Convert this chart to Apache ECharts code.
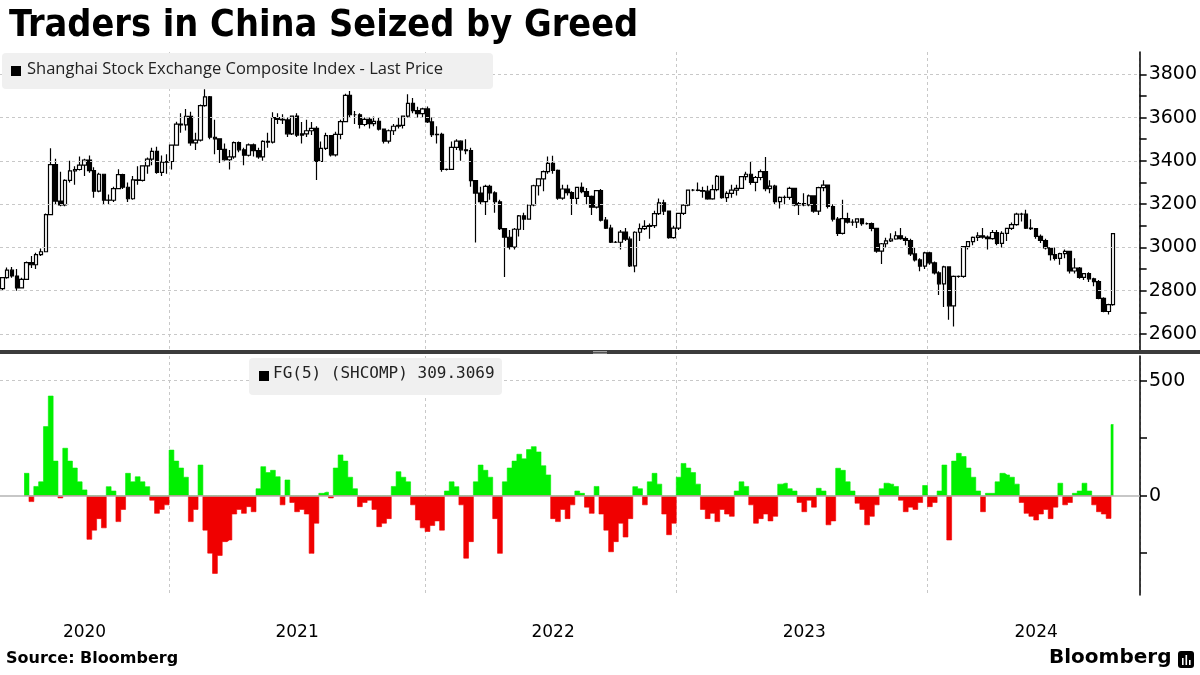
<!DOCTYPE html>
<html>
<head>
<meta charset="utf-8">
<title>Traders in China Seized by Greed</title>
<script src="https://cdn.jsdelivr.net/npm/echarts@6/dist/echarts.min.js"></script>
<style>
  html, body { margin: 0; padding: 0; background: #fff; }
  #chart { width: 1200px; height: 675px; }
</style>
</head>
<body>
<div id="chart"></div>
<script>
// weekly bars, week ending Friday, first week ends 2020-05-01
const firstWeek = '2020-05-01';
const weekCount = 236; // axis runs a few weeks past the last bar

// SHCOMP weekly [open, close, low, high]
const ohlc2020 = [
  [2810, 2860, 2800, 2861], [2860, 2895, 2855, 2907], [2895, 2868, 2860, 2910], [2868, 2813, 2800, 2900],
  [2813, 2852, 2810, 2860], [2852, 2930, 2850, 2935], [2930, 2920, 2905, 2960], [2920, 2967, 2900, 2975],
  [2967, 2980, 2960, 2995], [2980, 3152, 2980, 3157], [3152, 3383, 3150, 3458], [3383, 3214, 3200, 3410],
  [3214, 3196, 3190, 3350], [3196, 3310, 3190, 3315], [3310, 3354, 3300, 3400], [3354, 3360, 3290, 3375],
  [3360, 3380, 3355, 3420], [3380, 3404, 3330, 3410], [3404, 3355, 3345, 3425], [3355, 3260, 3230, 3370],
  [3260, 3338, 3255, 3345], [3338, 3219, 3200, 3340], [3219, 3218, 3200, 3245], [3218, 3272, 3210, 3280],
  [3272, 3336, 3270, 3361], [3336, 3278, 3270, 3340], [3278, 3225, 3210, 3300], [3225, 3312, 3220, 3330],
  [3312, 3310, 3290, 3375], [3310, 3377, 3305, 3380], [3377, 3408, 3340, 3415], [3408, 3444, 3380, 3460],
  [3444, 3347, 3340, 3465], [3347, 3394, 3330, 3425], [3394, 3397, 3340, 3430], [3397, 3473, 3360, 3475]
];
const ohlc2021 = [
  [3473, 3570, 3470, 3581], [3570, 3566, 3530, 3620], [3566, 3606, 3540, 3640], [3606, 3483, 3470, 3627],
  [3483, 3496, 3450, 3530], [3496, 3655, 3490, 3660], [3655, 3696, 3650, 3731], [3696, 3509, 3500, 3700],
  [3509, 3502, 3430, 3590], [3502, 3453, 3390, 3505], [3453, 3405, 3400, 3480], [3405, 3418, 3360, 3450],
  [3418, 3484, 3410, 3490], [3484, 3451, 3440, 3490], [3451, 3426, 3380, 3460], [3426, 3474, 3420, 3480],
  [3474, 3447, 3420, 3480], [3447, 3418, 3410, 3460], [3418, 3490, 3400, 3495], [3490, 3487, 3460, 3530],
  [3487, 3600, 3480, 3625], [3600, 3592, 3570, 3620], [3592, 3589, 3570, 3615], [3589, 3525, 3510, 3600],
  [3525, 3607, 3520, 3610], [3607, 3519, 3510, 3620], [3519, 3525, 3480, 3580], [3525, 3539, 3510, 3590],
  [3539, 3550, 3520, 3580], [3550, 3397, 3312, 3560], [3397, 3458, 3400, 3490], [3458, 3517, 3450, 3530],
  [3517, 3428, 3420, 3520], [3428, 3522, 3420, 3535], [3522, 3581, 3500, 3590], [3581, 3703, 3580, 3710],
  [3703, 3613, 3600, 3723], [3613, 3613, 3570, 3630], [3613, 3568, 3550, 3620], [3568, 3592, 3560, 3600],
  [3592, 3572, 3550, 3600], [3572, 3582, 3560, 3605], [3582, 3547, 3540, 3600], [3547, 3491, 3480, 3550],
  [3491, 3539, 3480, 3545], [3539, 3560, 3520, 3570], [3560, 3564, 3550, 3600], [3564, 3607, 3550, 3610],
  [3607, 3666, 3600, 3708], [3666, 3632, 3620, 3690], [3632, 3618, 3600, 3650], [3618, 3640, 3600, 3645]
];
const ohlc2022 = [
  [3640, 3580, 3575, 3651], [3580, 3521, 3510, 3600], [3521, 3522, 3480, 3560], [3522, 3361, 3350, 3530],
  [3361, 3361, 3355, 3365], [3361, 3462, 3360, 3490], [3462, 3491, 3450, 3500], [3491, 3451, 3400, 3495],
  [3451, 3447, 3430, 3500], [3447, 3309, 3280, 3460], [3309, 3251, 3023, 3310], [3251, 3212, 3200, 3280],
  [3212, 3282, 3150, 3290], [3282, 3252, 3220, 3290], [3252, 3211, 3160, 3260], [3211, 3087, 3080, 3220],
  [3087, 3047, 2863, 3090], [3047, 3001, 2990, 3080], [3001, 3084, 2990, 3090], [3084, 3146, 3050, 3150],
  [3146, 3131, 3080, 3160], [3131, 3196, 3130, 3200], [3196, 3285, 3190, 3290], [3285, 3317, 3240, 3320],
  [3317, 3350, 3260, 3355], [3350, 3388, 3340, 3420], [3388, 3356, 3340, 3424], [3356, 3228, 3220, 3360],
  [3228, 3270, 3220, 3290], [3270, 3253, 3240, 3290], [3253, 3227, 3150, 3260], [3227, 3277, 3200, 3280],
  [3277, 3258, 3250, 3300], [3258, 3236, 3200, 3275], [3236, 3186, 3150, 3240], [3186, 3262, 3180, 3265],
  [3262, 3126, 3120, 3270], [3126, 3089, 3085, 3140], [3089, 3024, 3020, 3105], [3024, 3024, 3020, 3030],
  [3024, 3071, 2990, 3080], [3071, 3038, 3030, 3090], [3038, 2915, 2910, 3050], [2915, 3070, 2885, 3075],
  [3070, 3087, 3030, 3110], [3087, 3097, 3080, 3125], [3097, 3101, 3040, 3110], [3101, 3156, 3090, 3170],
  [3156, 3206, 3150, 3226], [3206, 3168, 3150, 3220], [3168, 3045, 3040, 3170], [3045, 3089, 3040, 3100]
];
const ohlc2023 = [
  [3089, 3157, 3080, 3160], [3157, 3195, 3150, 3200], [3195, 3265, 3190, 3266], [3265, 3265, 3260, 3270],
  [3265, 3263, 3260, 3300], [3263, 3260, 3230, 3280], [3260, 3224, 3220, 3285], [3224, 3267, 3220, 3290],
  [3267, 3328, 3260, 3335], [3328, 3230, 3225, 3330], [3230, 3250, 3210, 3260], [3250, 3265, 3230, 3290],
  [3265, 3273, 3240, 3290], [3273, 3327, 3270, 3330], [3327, 3338, 3310, 3350], [3338, 3301, 3290, 3395],
  [3301, 3323, 3260, 3330], [3323, 3350, 3310, 3360], [3350, 3272, 3260, 3418], [3272, 3283, 3250, 3310],
  [3283, 3212, 3200, 3290], [3212, 3231, 3180, 3235], [3231, 3231, 3200, 3240], [3231, 3273, 3220, 3280],
  [3273, 3197, 3190, 3275], [3197, 3202, 3150, 3210], [3202, 3197, 3190, 3250], [3197, 3238, 3190, 3245],
  [3238, 3168, 3160, 3240], [3168, 3276, 3150, 3280], [3276, 3288, 3260, 3310], [3288, 3189, 3180, 3290],
  [3189, 3131, 3120, 3200], [3131, 3065, 3053, 3140], [3065, 3133, 3060, 3220], [3133, 3117, 3110, 3160],
  [3117, 3117, 3100, 3130], [3117, 3132, 3090, 3135], [3132, 3110, 3100, 3135], [3110, 3110, 3105, 3115],
  [3110, 3088, 3075, 3115], [3088, 2983, 2975, 3090], [2983, 3017, 2923, 3020], [3017, 3030, 3000, 3045],
  [3030, 3039, 3025, 3065], [3039, 3054, 3035, 3075], [3054, 3041, 3035, 3090], [3041, 3032, 3010, 3050],
  [3032, 2970, 2960, 3040], [2970, 2942, 2935, 3000], [2942, 2914, 2890, 2950], [2914, 2975, 2900, 2980]
];
const ohlc2024 = [
  [2975, 2929, 2920, 2980], [2929, 2882, 2875, 2935], [2882, 2832, 2780, 2890], [2832, 2910, 2725, 2915],
  [2910, 2730, 2666, 2910], [2730, 2866, 2635, 2870], [2866, 2866, 2860, 2870], [2866, 3004, 2860, 3005],
  [3004, 3027, 2990, 3030], [3027, 3046, 3010, 3050], [3046, 3054, 3030, 3070], [3054, 3048, 3040, 3090],
  [3048, 3041, 2990, 3055], [3041, 3069, 3035, 3080], [3069, 3019, 3010, 3080], [3019, 3065, 3000, 3075],
  [3065, 3088, 3030, 3090], [3088, 3105, 3080, 3115], [3105, 3154, 3100, 3160], [3154, 3154, 3120, 3160],
  [3154, 3089, 3085, 3174], [3089, 3087, 3080, 3130], [3087, 3051, 3040, 3090], [3051, 3032, 3020, 3060],
  [3032, 2998, 2990, 3040], [2998, 2967, 2940, 3000], [2967, 2949, 2940, 3000], [2949, 2971, 2920, 2975],
  [2971, 2982, 2950, 2990], [2982, 2891, 2880, 2985], [2891, 2905, 2880, 2950], [2905, 2862, 2855, 2910],
  [2862, 2879, 2850, 2880], [2879, 2855, 2840, 2885], [2855, 2842, 2820, 2860], [2842, 2765, 2760, 2850],
  [2765, 2704, 2700, 2770], [2704, 2736, 2690, 2740], [2736, 3064, 2730, 3066]
];

// FG(5) (SHCOMP), same weeks
const fg2020 = [null, null, null, null, null, 97, -26, 40, 60, 300, 433, 150, -10, 206, 150,
  120, 60, 25, -190, -150, -100, -140, 39, 20, -113, -60, 97, 60, 82, 60, 39, -20, -77, -60, -40, 198];
const fg2021 = [150, 120, 80, -113, -60, 133, -150, -250, -338, -260, -200, -193, -80, -60, -77,
  -48, -70, 30, 126, 100, 110, 82, -40, 68, -30, -70, -60, -80, -251, -120, 10, 15, -10, 120, 177,
  150, 80, 30, -48, -30, -20, -60, -135, -120, -100, 40, 104, 80, 60, -40, -106, -140];
const fg2022 = [-156, -130, -110, -150, 20, 60, 39, -40, -272, -200, 60, 133, 110, 80, -100,
  -251, 60, 120, 150, 180, 160, 200, 213, 190, 130, 90, -100, -113, -60, -100, -40, 20, 10, -50, -77,
  40, -80, -150, -244, -200, -120, -180, -100, 39, 30, -40, 60, 97, 50, -80, -170, -120];
const fg2023 = [80, 140, 120, 100, 50, -60, -100, -77, -113, -60, -80, -90, 20, 60, 40,
  -40, -120, -100, -80, -110, -90, 50, 54, 30, 20, -30, -70, -20, -50, 32, 20, -127, -110, 119, 110,
  60, 20, -33, -60, -127, -90, -40, 30, 54, 50, 40, -20, -70, -50, -60, -30, 44];
const fg2024 = [-48, -30, 20, 133, -193, 150, 184, 170, 120, 80, 20, -70, 10, 10, 60,
  97, 90, 80, 50, -30, -77, -90, -106, -80, -60, -100, -50, 54, -40, -30, 10, 20, 54, 20, -40,
  -70, -80, -99, 309];

const priceTicks = [2600, 2800, 3000, 3200, 3400, 3600, 3800];
const priceMinorTicks = [2700, 2900, 3100, 3300, 3500, 3700];
const fgLabels = [0, 500];
const fgTicks = [-250, 0, 250, 500];

// build the week categories
const categories = [];
const t0 = new Date(firstWeek + 'T00:00:00Z').getTime();
for (let i = 0; i < weekCount; i++) {
  categories.push(new Date(t0 + i * 7 * 86400000).toISOString().slice(0, 10));
}
const ohlc = [].concat(ohlc2020, ohlc2021, ohlc2022, ohlc2023, ohlc2024);
const fg = [].concat(fg2020, fg2021, fg2022, fg2023, fg2024);
// split by sign so each side gets its own colour (drawn as stepped areas, no gaps)
const fgUp = fg.map(v => (v === null ? null : Math.max(v, 0)));
const fgDown = fg.map(v => (v === null ? null : Math.min(v, 0)));

// year label sits in the middle of each year's visible weeks
const yearOf = c => c.slice(0, 4);
const labelIdx = {};
const years = [...new Set(categories.map(yearOf))];
years.forEach(y => {
  const idx = categories.map((c, i) => yearOf(c) === y ? i : -1).filter(i => i >= 0);
  labelIdx[Math.round((idx[0] + idx[idx.length - 1]) / 2)] = y;
});
const isYearStart = i => i > 0 && yearOf(categories[i]) !== yearOf(categories[i - 1]);

const gridDash = { color: '#c8c8c8', type: [3, 3], width: 1 };
const axisFont = 'DejaVu Sans';
const plain = v => String(v);
const green = '#00f000';
const red = '#f00000';

const histSeries = (name, data, color) => ({
  name, type: 'line', xAxisIndex: 1, yAxisIndex: 1,
  data, step: 'middle', symbol: 'none', silent: true,
  lineStyle: { width: 0.6, color },
  areaStyle: { color, opacity: 1, origin: 0 }
});

const chart = echarts.init(document.getElementById('chart'), null, { renderer: 'canvas' });

chart.setOption({
  animation: false,
  backgroundColor: '#fff',
  title: {
    text: 'Traders in China Seized by Greed',
    left: 4, top: 2,
    textStyle: { fontFamily: 'DejaVu Sans Condensed', fontWeight: 'bold', fontSize: 37.5, color: '#000' }
  },
  grid: [
    { left: 0, right: 60, top: 52, height: 298 },
    { left: 0, right: 60, top: 356, bottom: 80 }
  ],
  xAxis: [
    {
      type: 'category', gridIndex: 0, data: categories, boundaryGap: true,
      axisLine: { show: false }, axisTick: { show: false }, axisLabel: { show: false },
      splitLine: { show: true, interval: isYearStart, lineStyle: gridDash }
    },
    {
      type: 'category', gridIndex: 1, data: categories, boundaryGap: true,
      axisLine: { show: false }, axisTick: { show: false },
      axisLabel: {
        interval: i => labelIdx[i] !== undefined,
        formatter: (v, i) => labelIdx[i] || '',
        margin: 29, fontFamily: axisFont, fontSize: 17, color: '#000'
      },
      splitLine: { show: true, interval: isYearStart, lineStyle: gridDash }
    }
  ],
  yAxis: [
    {
      type: 'value', gridIndex: 0, position: 'right', min: 2526, max: 3903, scale: true,
      axisLine: { show: true, lineStyle: { color: '#000', width: 1.5 } },
      axisTick: { show: true, length: 7, customValues: priceTicks.concat(priceMinorTicks), lineStyle: { color: '#000', width: 1.5 } },
      axisLabel: { customValues: priceTicks, formatter: plain, margin: 9, fontFamily: axisFont, fontSize: 19, color: '#000' },
      splitLine: { show: false }
    },
    {
      type: 'value', gridIndex: 1, position: 'right', min: -432, max: 607,
      axisLine: { show: true, lineStyle: { color: '#000', width: 1.5 } },
      axisTick: { show: true, length: 7, customValues: fgTicks, lineStyle: { color: '#000', width: 1.5 } },
      axisLabel: { customValues: fgLabels, formatter: plain, margin: 9, fontFamily: axisFont, fontSize: 19, color: '#000' },
      splitLine: { show: false }
    }
  ],
  series: [
    {
      name: 'Shanghai Stock Exchange Composite Index - Last Price',
      type: 'candlestick', xAxisIndex: 0, yAxisIndex: 0,
      data: ohlc, barWidth: 4,
      itemStyle: { color: '#fff', color0: '#000', borderColor: '#000', borderColor0: '#000', borderWidth: 1.2 },
      markLine: {
        silent: true, symbol: 'none', label: { show: false },
        lineStyle: gridDash,
        data: priceTicks.map(v => ({ yAxis: v }))
      },
      z: 3
    },
    histSeries('FG(5) up', fgUp, green),
    histSeries('FG(5) down', fgDown, red),
    {
      // reference lines for the lower panel
      name: 'FG(5) grid', type: 'line', xAxisIndex: 1, yAxisIndex: 1, data: [], silent: true,
      markLine: {
        silent: true, symbol: 'none', label: { show: false },
        data: [
          { yAxis: 500, lineStyle: gridDash },
          { yAxis: 0, lineStyle: { color: '#b4b4b4', type: 'solid', width: 1.5 } }
        ]
      },
      z: 5
    }
  ],
  graphic: [
    // panel separator
    { type: 'rect', left: 0, top: 350, shape: { width: 1200, height: 4 }, style: { fill: '#3c3c3c' }, z: 50 },
    { type: 'rect', left: 593, top: 351, shape: { width: 14, height: 0.8 }, style: { fill: '#bbb' }, z: 51 },
    { type: 'rect', left: 593, top: 352.8, shape: { width: 14, height: 0.8 }, style: { fill: '#bbb' }, z: 51 },
    // legend boxes
    { type: 'rect', left: 2, top: 53, shape: { width: 491, height: 36, r: 4 }, style: { fill: '#f0f0f0' }, z: 40 },
    { type: 'rect', left: 11, top: 66, shape: { width: 10, height: 10 }, style: { fill: '#000' }, z: 41 },
    {
      type: 'text', left: 27, top: 61, z: 41,
      style: { text: 'Shanghai Stock Exchange Composite Index - Last Price', fill: '#222', font: '16.5px "Open Sans"' }
    },
    { type: 'rect', left: 249, top: 358, shape: { width: 253, height: 37, r: 4 }, style: { fill: '#f0f0f0' }, z: 40 },
    { type: 'rect', left: 259, top: 371, shape: { width: 10, height: 10 }, style: { fill: '#000' }, z: 41 },
    {
      type: 'text', left: 273, top: 366, z: 41,
      style: { text: 'FG(5) (SHCOMP) 309.3069', fill: '#222', font: '16px "DejaVu Sans Mono"' }
    },
    // footer
    {
      type: 'text', left: 6, top: 651, z: 41,
      style: { text: 'Source: Bloomberg', fill: '#000', font: 'bold 16px "DejaVu Sans"' }
    },
    {
      type: 'text', left: 1049, top: 648, z: 41,
      style: { text: 'Bloomberg', fill: '#000', font: 'bold 20px "DejaVu Sans"' }
    },
    { type: 'rect', left: 1178, top: 651, shape: { width: 16, height: 17, r: 3 }, style: { fill: '#000' }, z: 41 },
    { type: 'rect', left: 1182, top: 658, shape: { width: 1.6, height: 7 }, style: { fill: '#fff' }, z: 42 },
    { type: 'rect', left: 1185.5, top: 655, shape: { width: 1.6, height: 10 }, style: { fill: '#fff' }, z: 42 },
    { type: 'rect', left: 1189, top: 660, shape: { width: 1.6, height: 5 }, style: { fill: '#fff' }, z: 42 }
  ]
});
</script>
</body>
</html>
